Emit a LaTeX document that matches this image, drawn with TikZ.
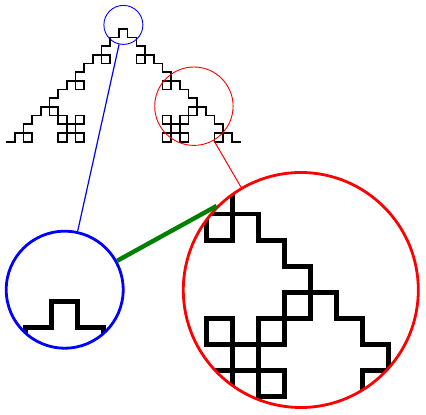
\documentclass[tikz,border=0pt]{standalone}
\usetikzlibrary{lindenmayersystems}
\pgfdeclarelindenmayersystem{qkoch}{\rule{F -> F+F-F-F+F}}
\begin{document}
\begin{tikzpicture}[x=1pt,y=1pt,
  kochline/.style={line width=#1, line join=miter, draw=black},
  spyon/.style={circle, draw, line width=0.9pt, inner sep=0pt},
  spyin/.style={circle, draw, line width=2.8pt, inner sep=0pt},
  link/.style={line width=#1}]
\useasboundingbox (0,0) rectangle (426,415);
% original curve
\draw[kochline=1.65pt, shift={(6,273.3)}, l-system={qkoch, axiom=F, order=3, step=8.69pt, angle=90}] (0,0) l-system;
% magnified views
\begin{scope}
  \clip (64.7,125.3) circle[radius=58.5];
  \draw[kochline=4.95pt, shift={(-287.5,-225.1)}, l-system={qkoch, axiom=F, order=3, step=26.07pt, angle=90}] (0,0) l-system;
\end{scope}
\begin{scope}
  \clip (300.8,125) circle[radius=117.5];
  \draw[kochline=4.95pt, shift={(-262.9,18.5)}, l-system={qkoch, axiom=F, order=3, step=26.07pt, angle=90}] (0,0) l-system;
\end{scope}
% spy circles
\node[spyon, blue, minimum size=39pt] (bs) at (123.4,390.1) {};
\node[spyin, blue, minimum size=117pt] (bb) at (64.7,125.3) {};
\node[spyon, red, minimum size=78.4pt] (rs) at (193.9,308.8) {};
\node[spyin, red, minimum size=235pt] (rb) at (300.8,125) {};
% connections
\draw[link=1.2pt, blue] (bs) -- (bb);
\draw[link=1pt, red] (rs) -- (rb);
\draw[link=4.4pt, green!50!black] (bb) -- (rb.135);
\end{tikzpicture}
\end{document}
